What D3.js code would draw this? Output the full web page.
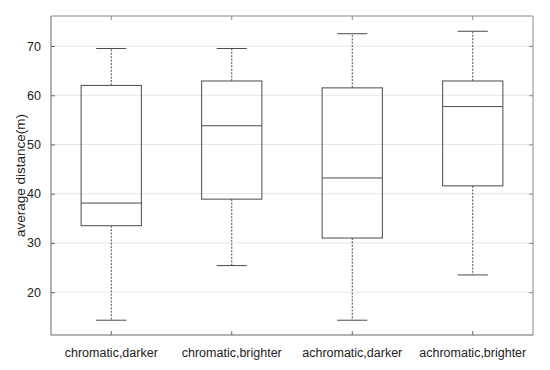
<!DOCTYPE html>
<html>
<head>
<meta charset="utf-8">
<script src="https://cdn.jsdelivr.net/npm/d3@7"></script>
<style>
  html, body { margin: 0; padding: 0; background: #fff; }
  svg { display: block; font-family: "Liberation Sans", Arial, sans-serif; }
</style>
</head>
<body>
<svg id="chart" width="550" height="370"></svg>
<script>
const categories = ["chromatic,darker", "chromatic,brighter", "achromatic,darker", "achromatic,brighter"];
const whiskerLow  = [14.3, 25.4, 14.3, 23.5];
const q1          = [33.5, 38.9, 31.0, 41.6];
const median      = [38.1, 53.8, 43.2, 57.7];
const q3          = [62.0, 62.9, 61.5, 62.9];
const whiskerHigh = [69.5, 69.5, 72.5, 73.0];
const yTicks = [20, 30, 40, 50, 60, 70];
const yLabel = "average distance(m)";

const pLeft = 51, pRight = 533, pTop = 16, pBottom = 335;
const svg = d3.select("#chart");

const x = d3.scaleBand().domain(categories).range([pLeft, pRight]).padding(0);
const y = d3.scaleLinear().domain([11.3, 76.1]).range([pBottom, pTop]);

const data = categories.map((c, i) => ({
  c, lo: whiskerLow[i], q1: q1[i], med: median[i], q3: q3[i], hi: whiskerHigh[i]
}));

// grid
svg.append("g").selectAll("line").data(yTicks).join("line")
  .attr("x1", pLeft).attr("x2", pRight)
  .attr("y1", d => y(d)).attr("y2", d => y(d))
  .attr("stroke", "#e6e6e6").attr("stroke-width", 1);

const cx = d => x(d.c) + x.bandwidth() / 2;
const bw = x.bandwidth() * 0.5;
const cw = x.bandwidth() * 0.25;
const boxStroke = "#4a4a4a";

const g = svg.append("g").selectAll("g").data(data).join("g");
// whiskers
g.append("line").attr("x1", cx).attr("x2", cx)
  .attr("y1", d => y(d.q3)).attr("y2", d => y(d.hi))
  .attr("stroke", boxStroke).attr("stroke-dasharray", "2,1.4");
g.append("line").attr("x1", cx).attr("x2", cx)
  .attr("y1", d => y(d.q1)).attr("y2", d => y(d.lo))
  .attr("stroke", boxStroke).attr("stroke-dasharray", "2,1.4");
// caps
g.append("line").attr("x1", d => cx(d) - cw / 2).attr("x2", d => cx(d) + cw / 2)
  .attr("y1", d => y(d.hi)).attr("y2", d => y(d.hi)).attr("stroke", boxStroke);
g.append("line").attr("x1", d => cx(d) - cw / 2).attr("x2", d => cx(d) + cw / 2)
  .attr("y1", d => y(d.lo)).attr("y2", d => y(d.lo)).attr("stroke", boxStroke);
// box
g.append("rect").attr("x", d => cx(d) - bw / 2).attr("width", bw)
  .attr("y", d => y(d.q3)).attr("height", d => y(d.q1) - y(d.q3))
  .attr("fill", "none").attr("stroke", boxStroke);
// median
g.append("line").attr("x1", d => cx(d) - bw / 2).attr("x2", d => cx(d) + bw / 2)
  .attr("y1", d => y(d.med)).attr("y2", d => y(d.med)).attr("stroke", boxStroke);

// frame
const axisDark = "#666", axisLight = "#8a8a8a";
svg.append("line").attr("x1", pLeft).attr("x2", pRight).attr("y1", pTop).attr("y2", pTop).attr("stroke", axisLight);
svg.append("line").attr("x1", pRight).attr("x2", pRight).attr("y1", pTop).attr("y2", pBottom).attr("stroke", axisLight);

// axes with inward ticks
const yAxis = d3.axisLeft(y).tickValues(yTicks).tickSize(-4).tickPadding(10);
const ya = svg.append("g").attr("transform", `translate(${pLeft},0)`).call(yAxis);
ya.select(".domain").attr("stroke", axisDark).attr("d", `M0,${pTop}V${pBottom}`);
ya.selectAll(".tick line").attr("stroke", axisDark);
ya.selectAll(".tick text").attr("font-size", 12.5).attr("fill", "#222")
  .attr("font-family", "Liberation Sans, Arial, sans-serif");

const yAxisR = d3.axisRight(y).tickValues(yTicks).tickSize(-4).tickFormat("");
const yr = svg.append("g").attr("transform", `translate(${pRight},0)`).call(yAxisR);
yr.select(".domain").remove();
yr.selectAll(".tick line").attr("stroke", axisLight);

const xAxis = d3.axisBottom(x).tickSize(-4).tickPadding(13);
const xa = svg.append("g").attr("transform", `translate(0,${pBottom})`).call(xAxis);
xa.select(".domain").attr("stroke", axisDark).attr("d", `M${pLeft},0H${pRight}`);
xa.selectAll(".tick line").attr("stroke", axisDark);
xa.selectAll(".tick text").attr("font-size", 12.5).attr("fill", "#222")
  .attr("font-family", "Liberation Sans, Arial, sans-serif");

const xAxisT = d3.axisTop(x).tickSize(-4).tickFormat("");
const xt = svg.append("g").attr("transform", `translate(0,${pTop})`).call(xAxisT);
xt.select(".domain").remove();
xt.selectAll(".tick line").attr("stroke", axisLight);

svg.append("text").attr("transform", `translate(25,${(pTop + pBottom) / 2}) rotate(-90)`)
  .attr("text-anchor", "middle").attr("font-size", 13.5).attr("fill", "#222")
  .text(yLabel);
</script>
</body>
</html>
